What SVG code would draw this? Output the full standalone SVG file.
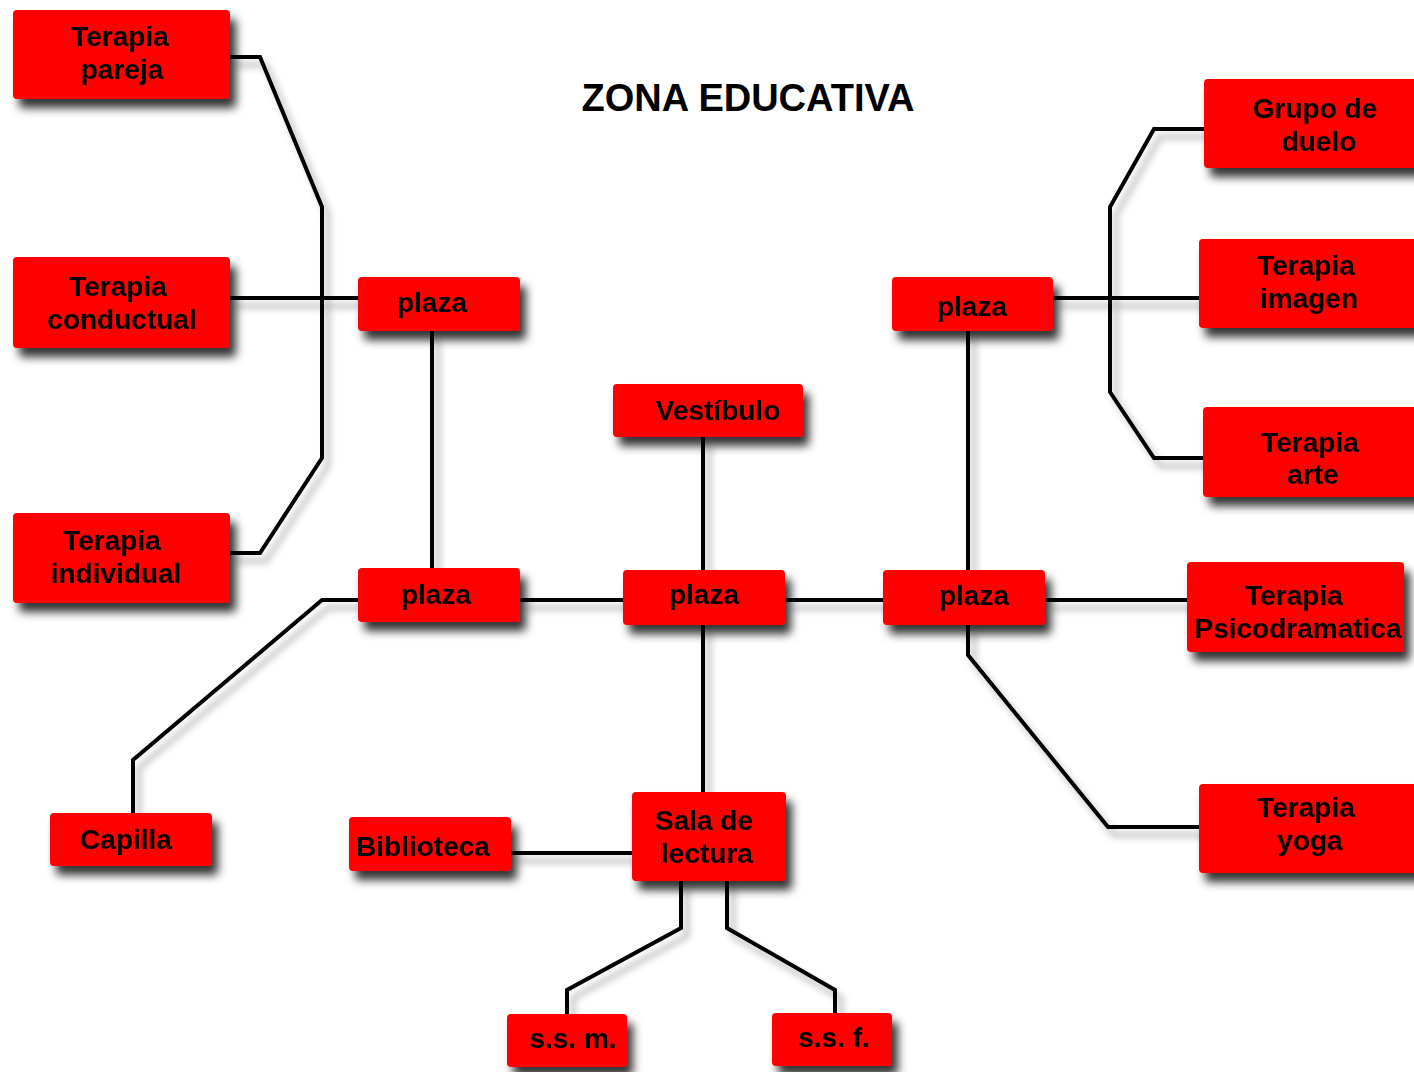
<svg xmlns="http://www.w3.org/2000/svg" width="1414" height="1072" viewBox="0 0 1414 1072">
  <defs>
    <filter id="boxShadow" x="-20%" y="-30%" width="150%" height="190%">
      <feDropShadow dx="6" dy="9" stdDeviation="5" flood-color="#000" flood-opacity="0.8"/>
    </filter>
    <filter id="lineShadow" x="-10%" y="-10%" width="130%" height="130%">
      <feDropShadow dx="6" dy="8" stdDeviation="3.5" flood-color="#000" flood-opacity="0.3"/>
    </filter>
  </defs>
  <style>
    .box { fill: #ff0000; }
    .node { filter: url(#boxShadow); }
    .lbl { font-family: "Liberation Sans", Arial, sans-serif; font-weight: bold; font-size: 28px; fill: #000; text-anchor: middle; }
    .title { font-family: "Liberation Sans", Arial, sans-serif; font-weight: bold; font-size: 38px; fill: #000; text-anchor: middle; }
    .wire { fill: none; stroke: #000; stroke-width: 4; stroke-linejoin: miter; }
  </style>

  <rect width="1414" height="1072" fill="#fff"/>

  <text class="title" x="748" y="111">ZONA EDUCATIVA</text>

  <g id="connectors" filter="url(#lineShadow)">
    <path class="wire" d="M230,57 H260 L322,207 V458 L260,553 H230"/>
    <path class="wire" d="M230,298 H358"/>
    <path class="wire" d="M432,331 V568"/>
    <path class="wire" d="M520,600 H623"/>
    <path class="wire" d="M785,600 H883"/>
    <path class="wire" d="M1045,600 H1187"/>
    <path class="wire" d="M358,600 H322 L133,760 V813"/>
    <path class="wire" d="M703,437 V570"/>
    <path class="wire" d="M703,625 V792"/>
    <path class="wire" d="M511,853 H632"/>
    <path class="wire" d="M681,881 V928 L567,990 V1014"/>
    <path class="wire" d="M727,881 V928 L835,990 V1013"/>
    <path class="wire" d="M968,331 V570"/>
    <path class="wire" d="M1053,298 H1199"/>
    <path class="wire" d="M1204,129 H1154 L1110,207 V392 L1154,458 H1203"/>
    <path class="wire" d="M968,625 V655 L1108,827 H1199"/>
  </g>

  <g id="terapia-pareja" class="node">
    <rect class="box" x="13" y="10" width="217" height="89" rx="4"/>
    <text class="lbl" x="120" y="46">Terapia</text>
    <text class="lbl" x="122" y="79">pareja</text>
  </g>
  <g id="terapia-conductual" class="node">
    <rect class="box" x="13" y="257" width="217" height="91" rx="4"/>
    <text class="lbl" x="118" y="296">Terapia</text>
    <text class="lbl" x="122" y="329">conductual</text>
  </g>
  <g id="terapia-individual" class="node">
    <rect class="box" x="13" y="513" width="217" height="90" rx="4"/>
    <text class="lbl" x="112" y="550">Terapia</text>
    <text class="lbl" x="116" y="583">individual</text>
  </g>
  <g id="plaza-nw" class="node">
    <rect class="box" x="358" y="277" width="162" height="54" rx="4"/>
    <text class="lbl" x="432" y="312">plaza</text>
  </g>
  <g id="plaza-w" class="node">
    <rect class="box" x="358" y="568" width="162" height="54" rx="4"/>
    <text class="lbl" x="436" y="604">plaza</text>
  </g>
  <g id="plaza-centro" class="node">
    <rect class="box" x="623" y="570" width="162" height="55" rx="4"/>
    <text class="lbl" x="704" y="604">plaza</text>
  </g>
  <g id="plaza-ne" class="node">
    <rect class="box" x="892" y="277" width="161" height="54" rx="4"/>
    <text class="lbl" x="972" y="316">plaza</text>
  </g>
  <g id="plaza-e" class="node">
    <rect class="box" x="883" y="570" width="162" height="55" rx="4"/>
    <text class="lbl" x="974" y="605">plaza</text>
  </g>
  <g id="vestibulo" class="node">
    <rect class="box" x="613" y="384" width="190" height="53" rx="4"/>
    <text class="lbl" x="718" y="420">Vestíbulo</text>
  </g>
  <g id="grupo-duelo" class="node">
    <rect class="box" x="1204" y="79" width="224" height="89" rx="4"/>
    <text class="lbl" x="1315" y="118">Grupo de</text>
    <text class="lbl" x="1319" y="151">duelo</text>
  </g>
  <g id="terapia-imagen" class="node">
    <rect class="box" x="1199" y="239" width="229" height="89" rx="4"/>
    <text class="lbl" x="1306" y="275">Terapia</text>
    <text class="lbl" x="1309" y="308">imagen</text>
  </g>
  <g id="terapia-arte" class="node">
    <rect class="box" x="1203" y="407" width="225" height="90" rx="4"/>
    <text class="lbl" x="1310" y="452">Terapia</text>
    <text class="lbl" x="1313" y="484">arte</text>
  </g>
  <g id="terapia-psicodramatica" class="node">
    <rect class="box" x="1187" y="562" width="217" height="90" rx="4"/>
    <text class="lbl" x="1294" y="605">Terapia</text>
    <text class="lbl" x="1298" y="638">Psicodramatica</text>
  </g>
  <g id="terapia-yoga" class="node">
    <rect class="box" x="1199" y="784" width="229" height="89" rx="4"/>
    <text class="lbl" x="1306" y="817">Terapia</text>
    <text class="lbl" x="1310" y="850">yoga</text>
  </g>
  <g id="capilla" class="node">
    <rect class="box" x="50" y="813" width="162" height="53" rx="4"/>
    <text class="lbl" x="126" y="849">Capilla</text>
  </g>
  <g id="biblioteca" class="node">
    <rect class="box" x="349" y="817" width="162" height="54" rx="4"/>
    <text class="lbl" x="423" y="856">Biblioteca</text>
  </g>
  <g id="sala-lectura" class="node">
    <rect class="box" x="632" y="792" width="154" height="89" rx="4"/>
    <text class="lbl" x="704" y="830">Sala de</text>
    <text class="lbl" x="707" y="863">lectura</text>
  </g>
  <g id="ss-m" class="node">
    <rect class="box" x="507" y="1014" width="120" height="53" rx="4"/>
    <text class="lbl" x="573" y="1048">s.s. m.</text>
  </g>
  <g id="ss-f" class="node">
    <rect class="box" x="772" y="1013" width="120" height="53" rx="4"/>
    <text class="lbl" x="834" y="1047">s.s. f.</text>
  </g>
</svg>
